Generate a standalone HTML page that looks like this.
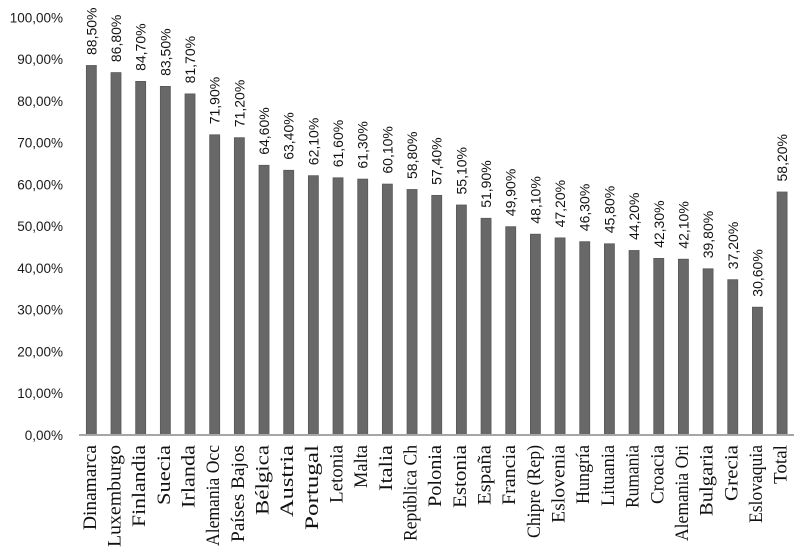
<!DOCTYPE html>
<html><head><meta charset="utf-8"><style>
html,body{margin:0;padding:0;background:#fff;}
svg{display:block;}
.y{font-family:"Liberation Sans",sans-serif;font-size:13.5px;fill:#1a1a1a;}
.v{font-family:"Liberation Sans",sans-serif;font-size:14px;fill:#111;}
.c{font-family:"Liberation Serif",serif;font-size:19px;fill:#111;}
.b{fill:#686868;stroke:#585858;stroke-width:0.8;}
</style></head><body>
<svg width="809" height="556" viewBox="0 0 809 556" xmlns="http://www.w3.org/2000/svg">
<rect width="809" height="556" fill="#fff"/>
<g class="y" text-anchor="end">
<text x="63" y="439.8">0,00%</text>
<text x="63" y="398.0">10,00%</text>
<text x="63" y="356.3">20,00%</text>
<text x="63" y="314.5">30,00%</text>
<text x="63" y="272.8">40,00%</text>
<text x="63" y="231.0">50,00%</text>
<text x="63" y="189.3">60,00%</text>
<text x="63" y="147.5">70,00%</text>
<text x="63" y="105.8">80,00%</text>
<text x="63" y="64.0">90,00%</text>
<text x="63" y="22.3">100,00%</text>
</g>
<g class="b">
<rect x="86.34" y="65.5" width="10" height="369.5"/>
<rect x="111.01" y="72.6" width="10" height="362.4"/>
<rect x="135.68" y="81.4" width="10" height="353.6"/>
<rect x="160.35" y="86.4" width="10" height="348.6"/>
<rect x="185.02" y="93.9" width="10" height="341.1"/>
<rect x="209.69" y="134.8" width="10" height="300.2"/>
<rect x="234.36" y="137.7" width="10" height="297.3"/>
<rect x="259.03" y="165.3" width="10" height="269.7"/>
<rect x="283.70" y="170.3" width="10" height="264.7"/>
<rect x="308.37" y="175.7" width="10" height="259.3"/>
<rect x="333.04" y="177.8" width="10" height="257.2"/>
<rect x="357.71" y="179.1" width="10" height="255.9"/>
<rect x="382.38" y="184.1" width="10" height="250.9"/>
<rect x="407.05" y="189.5" width="10" height="245.5"/>
<rect x="431.72" y="195.4" width="10" height="239.6"/>
<rect x="456.39" y="205.0" width="10" height="230.0"/>
<rect x="481.06" y="218.3" width="10" height="216.7"/>
<rect x="505.73" y="226.7" width="10" height="208.3"/>
<rect x="530.40" y="234.2" width="10" height="200.8"/>
<rect x="555.07" y="237.9" width="10" height="197.1"/>
<rect x="579.74" y="241.7" width="10" height="193.3"/>
<rect x="604.41" y="243.8" width="10" height="191.2"/>
<rect x="629.08" y="250.5" width="10" height="184.5"/>
<rect x="653.75" y="258.4" width="10" height="176.6"/>
<rect x="678.42" y="259.2" width="10" height="175.8"/>
<rect x="703.09" y="268.8" width="10" height="166.2"/>
<rect x="727.76" y="279.7" width="10" height="155.3"/>
<rect x="752.43" y="307.2" width="10" height="127.8"/>
<rect x="777.10" y="192.0" width="10" height="243.0"/>
</g>
<rect x="79" y="434" width="715" height="2" fill="#a6a6a6"/>
<g class="v">
<text transform="translate(96.34,55.0) rotate(-90)">88,50%</text>
<text transform="translate(121.01,62.1) rotate(-90)">86,80%</text>
<text transform="translate(145.68,70.9) rotate(-90)">84,70%</text>
<text transform="translate(170.35,75.9) rotate(-90)">83,50%</text>
<text transform="translate(195.02,83.4) rotate(-90)">81,70%</text>
<text transform="translate(219.69,124.3) rotate(-90)">71,90%</text>
<text transform="translate(244.36,127.2) rotate(-90)">71,20%</text>
<text transform="translate(269.03,154.8) rotate(-90)">64,60%</text>
<text transform="translate(293.70,159.8) rotate(-90)">63,40%</text>
<text transform="translate(318.37,165.2) rotate(-90)">62,10%</text>
<text transform="translate(343.04,167.3) rotate(-90)">61,60%</text>
<text transform="translate(367.71,168.6) rotate(-90)">61,30%</text>
<text transform="translate(392.38,173.6) rotate(-90)">60,10%</text>
<text transform="translate(417.05,179.0) rotate(-90)">58,80%</text>
<text transform="translate(441.72,184.9) rotate(-90)">57,40%</text>
<text transform="translate(466.39,194.5) rotate(-90)">55,10%</text>
<text transform="translate(491.06,207.8) rotate(-90)">51,90%</text>
<text transform="translate(515.73,216.2) rotate(-90)">49,90%</text>
<text transform="translate(540.40,223.7) rotate(-90)">48,10%</text>
<text transform="translate(565.07,227.4) rotate(-90)">47,20%</text>
<text transform="translate(589.74,231.2) rotate(-90)">46,30%</text>
<text transform="translate(614.41,233.3) rotate(-90)">45,80%</text>
<text transform="translate(639.08,240.0) rotate(-90)">44,20%</text>
<text transform="translate(663.75,247.9) rotate(-90)">42,30%</text>
<text transform="translate(688.42,248.7) rotate(-90)">42,10%</text>
<text transform="translate(713.09,258.3) rotate(-90)">39,80%</text>
<text transform="translate(737.76,269.2) rotate(-90)">37,20%</text>
<text transform="translate(762.43,296.7) rotate(-90)">30,60%</text>
<text transform="translate(787.10,181.5) rotate(-90)">58,20%</text>
</g>
<g class="c" text-anchor="end">
<text transform="translate(95.8,445) rotate(-90)" textLength="85" lengthAdjust="spacingAndGlyphs">Dinamarca</text>
<text transform="translate(120.5,445) rotate(-90)" textLength="102" lengthAdjust="spacingAndGlyphs">Luxemburgo</text>
<text transform="translate(145.2,445) rotate(-90)" textLength="82" lengthAdjust="spacingAndGlyphs">Finlandia</text>
<text transform="translate(169.9,445) rotate(-90)" textLength="60" lengthAdjust="spacingAndGlyphs">Suecia</text>
<text transform="translate(194.5,445) rotate(-90)" textLength="63" lengthAdjust="spacingAndGlyphs">Irlanda</text>
<text transform="translate(219.2,445) rotate(-90)" textLength="101" lengthAdjust="spacingAndGlyphs">Alemania Occ</text>
<text transform="translate(243.9,445) rotate(-90)" textLength="97" lengthAdjust="spacingAndGlyphs">Países Bajos</text>
<text transform="translate(268.5,445) rotate(-90)" textLength="70" lengthAdjust="spacingAndGlyphs">Bélgica</text>
<text transform="translate(293.2,445) rotate(-90)" textLength="72" lengthAdjust="spacingAndGlyphs">Austria</text>
<text transform="translate(317.9,445) rotate(-90)" textLength="85" lengthAdjust="spacingAndGlyphs">Portugal</text>
<text transform="translate(342.5,445) rotate(-90)" textLength="58" lengthAdjust="spacingAndGlyphs">Letonia</text>
<text transform="translate(367.2,445) rotate(-90)" textLength="43" lengthAdjust="spacingAndGlyphs">Malta</text>
<text transform="translate(391.9,445) rotate(-90)" textLength="46" lengthAdjust="spacingAndGlyphs">Italia</text>
<text transform="translate(416.5,445) rotate(-90)" textLength="96" lengthAdjust="spacingAndGlyphs">República Ch</text>
<text transform="translate(441.2,445) rotate(-90)" textLength="62" lengthAdjust="spacingAndGlyphs">Polonia</text>
<text transform="translate(465.9,445) rotate(-90)" textLength="63" lengthAdjust="spacingAndGlyphs">Estonia</text>
<text transform="translate(490.6,445) rotate(-90)" textLength="60" lengthAdjust="spacingAndGlyphs">España</text>
<text transform="translate(515.2,445) rotate(-90)" textLength="60" lengthAdjust="spacingAndGlyphs">Francia</text>
<text transform="translate(539.9,445) rotate(-90)" textLength="93" lengthAdjust="spacingAndGlyphs">Chipre (Rep)</text>
<text transform="translate(564.6,445) rotate(-90)" textLength="78" lengthAdjust="spacingAndGlyphs">Eslovenia</text>
<text transform="translate(589.2,445) rotate(-90)" textLength="59" lengthAdjust="spacingAndGlyphs">Hungría</text>
<text transform="translate(613.9,445) rotate(-90)" textLength="61" lengthAdjust="spacingAndGlyphs">Lituania</text>
<text transform="translate(638.6,445) rotate(-90)" textLength="63" lengthAdjust="spacingAndGlyphs">Rumania</text>
<text transform="translate(663.3,445) rotate(-90)" textLength="59" lengthAdjust="spacingAndGlyphs">Croacia</text>
<text transform="translate(687.9,445) rotate(-90)" textLength="96" lengthAdjust="spacingAndGlyphs">Alemania Ori</text>
<text transform="translate(712.6,445) rotate(-90)" textLength="71" lengthAdjust="spacingAndGlyphs">Bulgaria</text>
<text transform="translate(737.3,445) rotate(-90)" textLength="56" lengthAdjust="spacingAndGlyphs">Grecia</text>
<text transform="translate(761.9,445) rotate(-90)" textLength="78" lengthAdjust="spacingAndGlyphs">Eslovaquia</text>
<text transform="translate(786.6,445) rotate(-90)" textLength="39" lengthAdjust="spacingAndGlyphs">Total</text>
</g>
</svg>
</body></html>
